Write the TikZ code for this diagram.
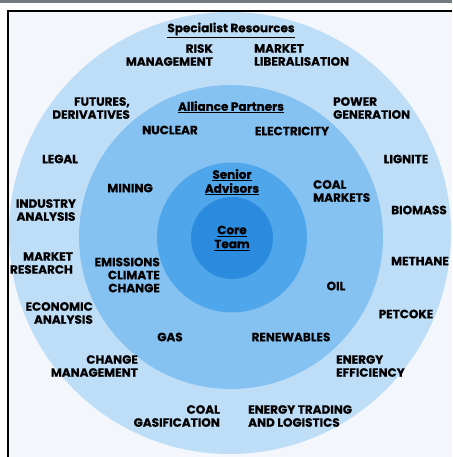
\documentclass[tikz,border=0pt]{standalone}
\usepackage{fontspec}
\setmainfont{Poppins}[BoldFeatures={FakeBold=0.6}]
\usetikzlibrary{positioning}
\definecolor{bandgray}{RGB}{112,122,128}
\definecolor{paper}{RGB}{243,247,252}
\definecolor{ringout}{RGB}{190,222,248}
\definecolor{ringmid}{RGB}{134,194,241}
\definecolor{ringin}{RGB}{80,166,234}
\definecolor{ringcore}{RGB}{43,139,222}

\begin{document}
\begin{tikzpicture}[x=1pt, y=-1pt,
    lbl/.style={font=\bfseries\fontsize{12}{13}\selectfont, inner sep=0pt},
    lblr/.style={lbl, align=right},
    lbll/.style={lbl, align=left},
    lblc/.style={lbl, align=center},
    head/.style={font=\bfseries\fontsize{12}{14}\selectfont, inner sep=0pt, align=center}]
    \useasboundingbox (0,0) rectangle (452,457);
    % Frame
    \fill[white] (0,0) rectangle (452,457);
    \fill[bandgray] (0,0) rectangle (452,3.5);
    \fill[paper] (8,11) rectangle (452,457);
    \draw[line width=1.3pt] (8,457) -- (8,11) -- (452,11);

    % Rings
    \begin{scope}
        \clip (8.7,11.7) rectangle (452,457);
        \fill[ringout] (230,233) circle[radius=221pt];
    \end{scope}
    \fill[ringmid] (231,237) circle[radius=152pt];
    \fill[ringin] (232,237.5) circle[radius=75pt];
    \fill[ringcore] (232,238) circle[radius=41pt];

    % Headings
    \node[head] (specialist) at (231,30) {\underline{Specialist Resources}};
    \node[head] (alliance) at (231,107) {\underline{Alliance Partners}};
    \node[head] (senior) at (232,182) {\underline{Senior}\\\underline{Advisors}};
    \node[head] (core) at (232,238) {\underline{Core}\\\underline{Team}};

    % Specialist resources
    \node[lblr, anchor=east] (risk) at (213,55) {RISK\\MANAGEMENT};
    \node[lbll, anchor=west] (liberal) at (254,55) {MARKET\\LIBERALISATION};
    \node[lblr, anchor=east] (futures) at (130,108) {FUTURES,\\DERIVATIVES};
    \node[lbll, anchor=west] (power) at (333,108) {POWER\\GENERATION};
    \node[lbl] (legal) at (60,159) {LEGAL};
    \node[lbl] (lignite) at (406,159) {LIGNITE};
    \node[lblc] (industry) at (46,210) {INDUSTRY\\ANALYSIS};
    \node[lbl] (biomass) at (419,210) {BIOMASS};
    \node[lblr, anchor=east] (research) at (73,263) {MARKET\\RESEARCH};
    \node[lbl] (methane) at (420,261) {METHANE};
    \node[lblr, anchor=east] (economic) at (93,313) {ECONOMIC\\ANALYSIS};
    \node[lbl] (petcoke) at (406,314) {PETCOKE};
    \node[lblr, anchor=east] (change) at (138,366) {CHANGE\\MANAGEMENT};
    \node[lbll, anchor=west] (efficiency) at (336,366) {ENERGY\\EFFICIENCY};
    \node[lblr, anchor=east] (gasif) at (220,416) {COAL\\GASIFICATION};
    \node[lbll, anchor=west] (trading) at (248,416) {ENERGY TRADING\\AND LOGISTICS};

    % Alliance partners
    \node[lbl] (nuclear) at (170,130) {NUCLEAR};
    \node[lbl] (electricity) at (292,131) {ELECTRICITY};
    \node[lbl] (mining) at (130,188) {MINING};
    \node[lbll, anchor=west] (coal) at (313,191) {COAL\\MARKETS};
    \node[lblr, anchor=east] (emissions) at (160,275) {EMISSIONS\\CLIMATE\\CHANGE};
    \node[lbl] (oil) at (336,286) {OIL};
    \node[lbl] (gas) at (170,337) {GAS};
    \node[lbl] (renew) at (291,337) {RENEWABLES};
\end{tikzpicture}
\end{document}
